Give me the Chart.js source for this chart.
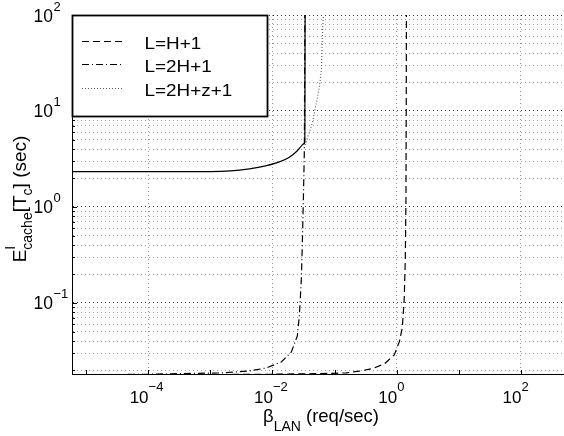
<!DOCTYPE html>
<html><head><meta charset="utf-8">
<script src="https://cdn.jsdelivr.net/npm/chart.js@4/dist/chart.umd.min.js"></script>
<style>html,body{margin:0;padding:0;background:#fff}#wrap{width:564px;height:436px;position:relative}canvas{display:block}</style>
</head><body><div id="wrap"><canvas id="c" width="564" height="436"></canvas></div>
<script>
// ---------- data ----------
const seriesLabels = ['L=H+1', 'L=2H+1', 'L=2H+z+1'];

const hPlus1X = [0.001, 0.01, 0.05, 0.092, 0.155, 0.25, 0.405, 0.632, 0.914, 1.10, 1.23, 1.32, 1.375, 1.41, 1.425, 1.435];
const hPlus1Y = [0.01795, 0.0181, 0.01835, 0.0185, 0.0187, 0.0195, 0.0207, 0.0232, 0.0287, 0.0393, 0.055, 0.107, 0.28, 1.18, 13, 100];

const twoHPlus1X = [0.00001, 0.0001, 0.00047, 0.0015, 0.0043, 0.0079, 0.01396, 0.0202, 0.0252, 0.0272, 0.0292, 0.0303, 0.0315, 0.0327, 0.0333];
const twoHPlus1Y = [0.0178, 0.0181, 0.01845, 0.01866, 0.0196, 0.0210, 0.0243, 0.0309, 0.0453, 0.075, 0.174, 0.40, 1.18, 3.9, 100];

const twoHzPlus1X = [0.0336, 0.0366, 0.044, 0.0528, 0.057, 0.0614, 0.0637, 0.066];
const twoHzPlus1Y = [4.43, 5.24, 7.5, 13.6, 17.8, 26.7, 59, 100];

const totalX = [0.000001, 0.00067, 0.00295, 0.0062, 0.013, 0.01875, 0.0252, 0.0303, 0.0333];
const totalY = [2.33, 2.33, 2.42, 2.6, 2.95, 3.3, 3.85, 4.43, 4.64];
const totalAsymptoteX = [0.0333, 0.0336];
const totalAsymptoteY = [4.64, 100];

const xTickValues = [1e-4, 1e-2, 1, 1e2];
const xTickExponents = ['\u22124', '\u22122', '0', '2'];
const xDecades = [1e-5, 1e-4, 1e-3, 1e-2, 1e-1, 1, 10, 100];
const yTickValues = [0.1, 1, 10, 100];
const yTickExponents = ['\u22121', '0', '1', '2'];
const yDecades = [0.01, 0.1, 1, 10];
const yMultipliers = [1, 2, 3, 4, 5, 6, 7, 8, 9];

const xMin = 5.97e-6, xMax = 492, yMin = 0.0182, yMax = 100;

const xTitle = { base: '\u03B2', sub: 'LAN', rest: ' (req/sec)' };
const yTitle = { base: 'E', sup: 'I', sub: 'cache', mid: '[T', sub2: 'c', rest: '] (sec)' };

// ---------- helpers ----------
const FONT = '"Liberation Sans", Arial, Helvetica, sans-serif';
const pts = (xs, ys) => xs.map((x, i) => ({ x, y: ys[i] }));
const isDecade = v => Math.abs(Math.log10(v) - Math.round(Math.log10(v))) < 1e-6;

const yGridValues = [];
yDecades.forEach(d => yMultipliers.forEach(m => { const v = d * m; if (v >= yMin && v <= yMax) yGridValues.push(v); }));
yGridValues.push(100);

function measureRich(ctx, parts) {
  let w = 0; const pos = []; let i = 0;
  while (i < parts.length) {
    const p = parts[i];
    ctx.font = p.size + 'px ' + FONT;
    const pw = ctx.measureText(p.t).width * (p.hs || 1);
    pos[i] = w;
    if (p.stack && i + 1 < parts.length) {
      const q = parts[i + 1];
      ctx.font = q.size + 'px ' + FONT;
      const qw = ctx.measureText(q.t).width * (q.hs || 1);
      pos[i + 1] = w; w += Math.max(pw, qw); i += 2;
    } else { w += pw; i++; }
  }
  return { w, pos };
}
function drawRich(ctx, parts, x, y, align) {
  const m = measureRich(ctx, parts);
  const x0 = align === 'center' ? x - m.w / 2 : (align === 'right' ? x - m.w : x);
  ctx.textAlign = 'left'; ctx.textBaseline = 'alphabetic'; ctx.fillStyle = '#000';
  parts.forEach((p, i) => {
    ctx.save();
    ctx.font = p.size + 'px ' + FONT;
    ctx.translate(x0 + m.pos[i], y + (p.dy || 0));
    ctx.scale(p.hs || 1, 1);
    ctx.fillText(p.t, 0, 0);
    ctx.restore();
  });
}

const decor = {
  id: 'decor',
  afterDraw(chart) {
    const ctx = chart.ctx, xs = chart.scales.x, ys = chart.scales.y, ca = chart.chartArea;
    ctx.save();
    // inward tick marks
    ctx.strokeStyle = '#000'; ctx.lineWidth = 1;
    ctx.beginPath();
    xDecades.forEach(v => { const px = Math.round(xs.getPixelForValue(v)) + 0.5; ctx.moveTo(px, ca.bottom); ctx.lineTo(px, ca.bottom - 4); });
    yGridValues.forEach(v => { const py = Math.round(ys.getPixelForValue(v)) + 0.5; ctx.moveTo(ca.left, py); ctx.lineTo(ca.left + (isDecade(v) ? 5 : 3), py); });
    ctx.stroke();
    // x tick labels
    xTickValues.forEach((v, i) => {
      const px = xs.getPixelForValue(v);
      drawRich(ctx, [{ t: '10', size: 17 }], px + 0.5, 403, 'right');
      drawRich(ctx, [{ t: xTickExponents[i], size: 13 }], px + 0.5, 391, 'left');
    });
    // y tick labels
    yTickValues.forEach((v, i) => {
      const py = ys.getPixelForValue(v);
      drawRich(ctx, [{ t: '10', size: 17.5 }], 53, py + 6.5, 'right');
      drawRich(ctx, [{ t: yTickExponents[i], size: 13 }], 53.5, py - 4.5, 'left');
    });
    // x title
    drawRich(ctx, [
      { t: xTitle.base, size: 18.5 },
      { t: xTitle.sub, size: 14, dy: 9 },
      { t: xTitle.rest, size: 18.5 }
    ], 321, 422, 'center');
    // y title
    ctx.save();
    ctx.translate(26, 199);
    ctx.rotate(-Math.PI / 2);
    drawRich(ctx, [
      { t: yTitle.base, size: 19 },
      { t: yTitle.sup, size: 14, dy: -11, stack: true },
      { t: yTitle.sub, size: 14, dy: 6 },
      { t: yTitle.mid, size: 19 },
      { t: yTitle.sub2, size: 14, dy: 6 },
      { t: yTitle.rest, size: 19 }
    ], 0, 0, 'center');
    ctx.restore();
    // legend
    const lx = 72, ly = 15, lw = 195.5, lh = 101.5;
    ctx.fillStyle = '#fff'; ctx.fillRect(lx, ly, lw, lh);
    ctx.strokeStyle = '#000'; ctx.lineWidth = 1.8; ctx.setLineDash([]);
    ctx.strokeRect(lx + 0.5, ly + 0.5, lw - 0.5, lh - 0.5);
    const rowBase = [49, 72.3, 95.7];
    seriesLabels.forEach((lab, i) => {
      const ds = chart.data.datasets[i];
      const yl = Math.round(rowBase[i] - 8) + 0.5;
      ctx.strokeStyle = ds.borderColor; ctx.lineWidth = 1; ctx.setLineDash(ds.borderDash || []);
      ctx.beginPath(); ctx.moveTo(82, yl); ctx.lineTo(122, yl); ctx.stroke();
      ctx.setLineDash([]);
      drawRich(ctx, [{ t: lab, size: 16, hs: 1.18 }], 144.5, rowBase[i], 'left');
    });
    ctx.restore();
  }
};

const lineDs = (label, xs, ys, dash, width, extra) => Object.assign({
  label, data: pts(xs, ys), borderColor: '#000', borderWidth: width, borderDash: dash,
  pointRadius: 0, tension: 0, fill: false
}, extra || {});

new Chart(document.getElementById('c'), {
  type: 'line',
  data: {
    datasets: [
      lineDs(seriesLabels[0], hPlus1X, hPlus1Y, [7, 4], 1.2),
      lineDs(seriesLabels[1], twoHPlus1X, twoHPlus1Y, [7, 3, 1, 3], 1.2),
      lineDs(seriesLabels[2], twoHzPlus1X, twoHzPlus1Y, [1, 2], 1.1, { borderColor: '#555' }),
      lineDs('', totalX, totalY, [], 1.2, { cubicInterpolationMode: 'monotone' }),
      lineDs('', totalAsymptoteX, totalAsymptoteY, [], 1.2)
    ]
  },
  options: {
    responsive: false, animation: false, devicePixelRatio: 1,
    layout: { padding: { left: 72, top: 15, right: 0, bottom: 62 } },
    plugins: { legend: { display: false }, tooltip: { enabled: false } },
    scales: {
      x: {
        type: 'logarithmic', min: xMin, max: xMax,
        afterBuildTicks: s => { s.ticks = xDecades.map(v => ({ value: v })); },
        ticks: { display: false },
        grid: { drawTicks: false, lineWidth: 1, color: c => { const e = Math.round(Math.log10(c.tick.value)); return e % 2 === 0 ? '#9a9a9a' : 'rgba(0,0,0,0)'; } },
        border: { display: true, color: '#000', width: 1, dash: c => c.type === 'tick' ? [1, 3] : [] }
      },
      y: {
        type: 'logarithmic', min: yMin, max: yMax,
        afterBuildTicks: s => { s.ticks = yGridValues.map(v => ({ value: v })); },
        ticks: { display: false },
        grid: { drawTicks: false, lineWidth: 1, color: c => isDecade(c.tick.value) ? '#333' : '#a0a0a0' },
        border: { display: true, color: '#000', width: 1, dash: c => c.type === 'tick' ? [1, 3] : [] }
      }
    }
  },
  plugins: [decor]
});
</script>
</body></html>
